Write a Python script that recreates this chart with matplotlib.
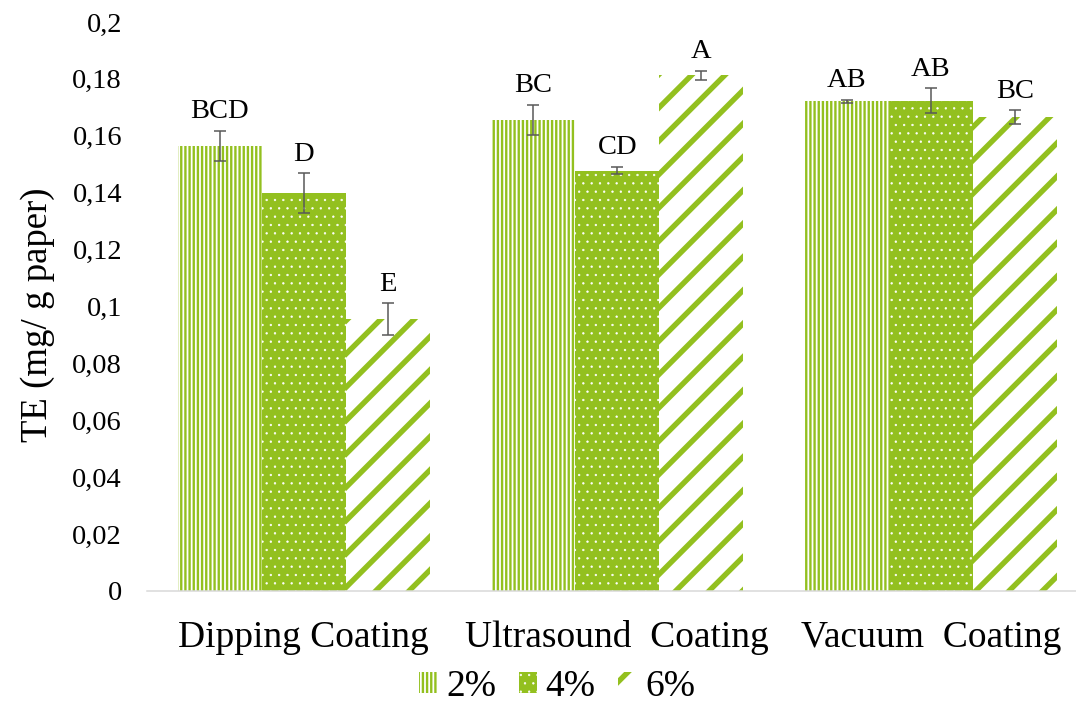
import numpy as np
import matplotlib
matplotlib.use("Agg")
import matplotlib.pyplot as plt
from matplotlib.patches import Patch
from matplotlib.legend_handler import HandlerPatch

# TE per coating method and concentration
methods = ["Dipping Coating", "Ultrasound  Coating", "Vacuum  Coating"]
series = ["2%", "4%", "6%"]
te_2 = [0.1565, 0.1657, 0.1722]
te_4 = [0.1398, 0.1478, 0.1724]
te_6 = [0.0956, 0.1812, 0.1665]
sd_2 = [0.0053, 0.0053, 0.0005]
sd_4 = [0.0070, 0.0014, 0.0043]
sd_6 = [0.0056, 0.0017, 0.0025]
letters_2 = ["BCD", "BC", "AB"]
letters_4 = ["D", "CD", "AB"]
letters_6 = ["E", "A", "BC"]
y_ticks = [0, 0.02, 0.04, 0.06, 0.08, 0.1, 0.12, 0.14, 0.16, 0.18, 0.2]

green = "#93c01f"
plt.rcParams["font.family"] = ["Liberation Serif", "DejaVu Serif"]


class HatchHandler(HandlerPatch):
    """Legend patch that keeps its own hatch line width."""
    def __init__(self, hlw):
        super().__init__()
        self.hlw = hlw

    def create_artists(self, *args, **kwargs):
        with plt.rc_context({"hatch.linewidth": self.hlw}):
            arts = super().create_artists(*args, **kwargs)
        for a in arts:
            if hasattr(a, "set_hatch_linewidth"):
                a.set_hatch_linewidth(self.hlw)
        return arts


fig = plt.figure(figsize=(10.76, 7.16), dpi=100)
ax = fig.add_axes([147 / 1076, 125 / 716, (1076 - 147) / 1076, 569 / 716])

x = np.arange(len(methods))
width = 0.268
# (values, errors, letters, face, hatch colour, hatch, hatch linewidth)
styles = [
    (te_2, sd_2, letters_2, "white", green, "||||", 1.7),
    (te_4, sd_4, letters_4, green, "white", "..", 0.45),
    (te_6, sd_6, letters_6, "white", green, "/", 3.9),
]

handles = []
hmap = {}
for i, (vals, errs, lets, face, hcol, hatch, hlw) in enumerate(styles):
    plt.rcParams["hatch.linewidth"] = hlw
    pos = x + (i - 1) * width
    bars = ax.bar(pos, vals, width, color=face, edgecolor=hcol, linewidth=0,
                  hatch=hatch, yerr=errs, capsize=4.3,
                  error_kw=dict(ecolor="#595959", elinewidth=1.1, capthick=1.1))
    h = Patch(facecolor=face, edgecolor=hcol, linewidth=0, hatch=hatch, label=series[i])
    for p in list(bars) + [h]:
        if hasattr(p, "set_hatch_linewidth"):
            p.set_hatch_linewidth(hlw)
    handles.append(h)
    hmap[h] = HatchHandler(hlw)
    for p, v, e, t in zip(pos, vals, errs, lets):
        ax.annotate(t, (p, v + e), xytext=(0, 9), textcoords="offset points",
                    ha="center", va="baseline", fontsize=20.5)

ax.set_xlim(-0.5, 2.463)
ax.set_ylim(0, 0.2)
ax.set_yticks(y_ticks)
ax.set_yticklabels([("%g" % v).replace(".", ",") for v in y_ticks], fontsize=20.5)
ax.set_xticks(x)
ax.set_xticklabels(methods, fontsize=27)
ax.tick_params(axis="y", length=0, pad=18)
ax.tick_params(axis="x", length=0, pad=21)
for s in ["top", "right", "left"]:
    ax.spines[s].set_visible(False)
ax.spines["bottom"].set_color("#d9d9d9")
ax.spines["bottom"].set_linewidth(1.1)

fig.text(38 / 1076, 1 - 315 / 716, "TE (mg/ g paper)", rotation=90,
         ha="center", va="center", fontsize=26.5)

fig.legend(handles=handles, handler_map=hmap, loc="center",
           bbox_to_anchor=(557 / 1076, 1 - 687 / 716),
           ncol=3, frameon=False, fontsize=27, handlelength=0.48, handleheight=0.48,
           handletextpad=0.24, columnspacing=0.6, borderpad=0)

fig.savefig("out.png", dpi=100)
